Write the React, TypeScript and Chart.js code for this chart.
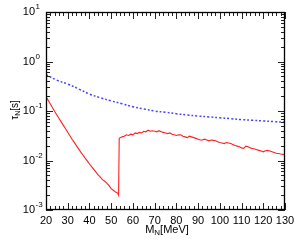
import React, { useEffect, useRef } from "react";
import { Chart, registerables } from "chart.js";

Chart.register(...registerables);

const redMass = [20, 21, 22, 23, 24, 25, 26, 27, 28, 29, 30, 31, 32, 33, 34, 35, 36, 37, 38, 39, 40, 41, 42, 43, 44, 45, 46, 47, 48, 49, 50, 51, 52, 53, 53.4, 53.7, 55, 56, 57, 58, 59, 60, 61, 62, 63, 64, 65, 66, 67, 68, 69, 70, 71, 72, 73, 74, 75, 76, 77, 78, 79, 80, 81, 82, 83, 84, 85, 86, 87, 88, 89, 90, 91, 92, 93, 94, 95, 96, 97, 98, 99, 100, 101, 102, 103, 104, 105, 106, 107, 108, 109, 110, 111, 112, 113, 114, 115, 116, 117, 118, 119, 120, 121, 122, 123, 124, 125, 126, 127, 128, 129, 130];
const redTau = [0.195, 0.164, 0.138, 0.116, 0.0977, 0.0832, 0.0708, 0.0603, 0.0513, 0.0437, 0.0372, 0.0316, 0.0269, 0.0232, 0.02, 0.0172, 0.0148, 0.0129, 0.0112, 0.0098, 0.0085, 0.0075, 0.0066, 0.0058, 0.0051, 0.0046, 0.0041, 0.0038, 0.0035, 0.0031, 0.0027, 0.0025, 0.0023, 0.0022, 0.002, 0.028, 0.030, 0.031, 0.033, 0.032, 0.034, 0.033, 0.036, 0.035, 0.037, 0.036, 0.039, 0.038, 0.041, 0.039, 0.040, 0.039, 0.038, 0.040, 0.038, 0.037, 0.036, 0.035, 0.036, 0.034, 0.033, 0.032, 0.033, 0.033, 0.031, 0.030, 0.029, 0.031, 0.030, 0.029, 0.028, 0.027, 0.026, 0.026, 0.027, 0.026, 0.025, 0.026, 0.0255, 0.025, 0.024, 0.023, 0.0225, 0.022, 0.023, 0.0225, 0.022, 0.021, 0.020, 0.0195, 0.019, 0.018, 0.0175, 0.0195, 0.019, 0.018, 0.0175, 0.017, 0.0165, 0.016, 0.0155, 0.015, 0.0158, 0.016, 0.0155, 0.015, 0.0145, 0.014, 0.0138, 0.0135, 0.0133, 0.013];

const blueMass = [20, 25, 30, 35, 40, 45, 50, 55, 60, 65, 70, 75, 80, 85, 90, 95, 100, 105, 110, 115, 120, 125, 130];
const blueTau = [0.54, 0.42, 0.35, 0.28, 0.22, 0.185, 0.16, 0.14, 0.122, 0.11, 0.1, 0.094, 0.088, 0.083, 0.079, 0.076, 0.073, 0.07, 0.067, 0.065, 0.063, 0.061, 0.0595];

const xTickLabels = [20, 30, 40, 50, 60, 70, 80, 90, 100, 110, 120, 130];
const yDecades = [-3, -2, -1, 0, 1];

const FONT = "Liberation Sans, Arial, sans-serif";

const framePlugin = {
  id: "frame",
  afterDatasetsDraw(chart: any) {
    const { ctx, chartArea: a, scales } = chart;
    const xs = scales.x;
    const ys = scales.y;
    ctx.save();
    // ticks
    ctx.strokeStyle = "#222";
    ctx.lineWidth = 1;
    ctx.beginPath();
    for (let v = 20; v <= 130; v += 2) {
      const px = Math.round(xs.getPixelForValue(v)) + 0.5;
      const len = v % 10 === 0 ? 7 : 4;
      ctx.moveTo(px, a.bottom);
      ctx.lineTo(px, a.bottom - len);
      ctx.moveTo(px, a.top);
      ctx.lineTo(px, a.top + len);
    }
    for (let d = -3; d <= 0; d++) {
      for (let m = 1; m <= 9; m++) {
        const py = Math.round(ys.getPixelForValue(m * Math.pow(10, d))) + 0.5;
        const len = m === 1 ? 7 : 4;
        ctx.moveTo(a.left, py);
        ctx.lineTo(a.left + len, py);
        ctx.moveTo(a.right, py);
        ctx.lineTo(a.right - len, py);
      }
    }
    ctx.stroke();
    // frame
    ctx.strokeStyle = "#000";
    ctx.lineWidth = 1.3;
    ctx.strokeRect(Math.round(a.left) + 0.5, Math.round(a.top) + 0.5, Math.round(a.right - a.left) - 1, Math.round(a.bottom - a.top) - 1);

    // x tick labels
    ctx.fillStyle = "#000";
    ctx.font = `11px ${FONT}`;
    ctx.textAlign = "center";
    ctx.textBaseline = "middle";
    xTickLabels.forEach((v) => {
      ctx.fillText(String(v), xs.getPixelForValue(v), a.bottom + 11);
    });
    // y tick labels
    yDecades.forEach((d) => {
      const py = ys.getPixelForValue(Math.pow(10, d));
      ctx.font = `11px ${FONT}`;
      ctx.textAlign = "right";
      ctx.textBaseline = "middle";
      ctx.fillText("10", 35, py);
      ctx.font = `8px ${FONT}`;
      ctx.textAlign = "left";
      ctx.fillText(String(d), 35.5, py - 5);
    });
    // x title
    const xt = 167;
    ctx.textBaseline = "middle";
    ctx.textAlign = "left";
    ctx.font = `11px ${FONT}`;
    const wM = ctx.measureText("M").width;
    ctx.font = `8px ${FONT}`;
    const wN = ctx.measureText("N").width;
    ctx.font = `11px ${FONT}`;
    const wRest = ctx.measureText("[MeV]").width;
    const start = xt - (wM + wN + wRest) / 2;
    ctx.fillText("M", start, 230);
    ctx.font = `8px ${FONT}`;
    ctx.fillText("N", start + wM, 233);
    ctx.font = `11px ${FONT}`;
    ctx.fillText("[MeV]", start + wM + wN, 230);

    // y title
    ctx.translate(15, 110);
    ctx.rotate(-Math.PI / 2);
    ctx.font = `10px ${FONT}`;
    const wt = ctx.measureText("τ").width;
    ctx.font = `7px ${FONT}`;
    const wn = ctx.measureText("N").width;
    ctx.font = `10px ${FONT}`;
    const ws = ctx.measureText("[s]").width;
    const s2 = -(wt + wn + ws) / 2;
    ctx.fillText("τ", s2, 0);
    ctx.font = `7px ${FONT}`;
    ctx.fillText("N", s2 + wt, 3);
    ctx.font = `10px ${FONT}`;
    ctx.fillText("[s]", s2 + wt + wn, 0);
    ctx.restore();
  },
};

export default function App() {
  const ref = useRef<HTMLCanvasElement>(null);
  useEffect(() => {
    document.body.style.margin = "0";
    const chart = new Chart(ref.current!, {
      type: "line",
      data: {
        datasets: [
          {
            data: blueMass.map((m, i) => ({ x: m, y: blueTau[i] })),
            borderColor: "rgba(50,50,255,0.9)",
            borderWidth: 1.5,
            borderDash: [2, 2],
            pointRadius: 0,
            tension: 0.4,
            fill: false,
          },
          {
            data: redMass.map((m, i) => ({ x: m, y: redTau[i] })),
            borderColor: "#ff2020",
            borderWidth: 1.1,
            pointRadius: 0,
            tension: 0,
            fill: false,
          },
        ],
      },
      options: {
        animation: false,
        responsive: false,
        layout: { padding: { left: 46, right: 15, top: 12, bottom: 35 } },
        plugins: { legend: { display: false }, tooltip: { enabled: false } },
        scales: {
          x: { type: "linear", min: 20, max: 130, display: false },
          y: { type: "logarithmic", min: 0.001, max: 10, display: false },
        },
      },
      plugins: [framePlugin],
    });
    return () => chart.destroy();
  }, []);
  return (
    <div style={{ width: 300, height: 245 }}>
      <canvas ref={ref} width={300} height={245} />
    </div>
  );
}
